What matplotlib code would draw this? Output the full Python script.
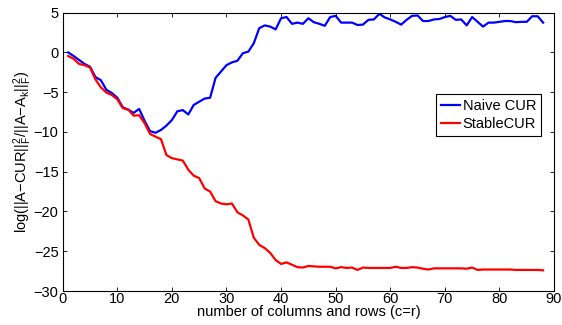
import numpy as np
import matplotlib
matplotlib.use('Agg')
import matplotlib.pyplot as plt

plt.rcParams['font.family'] = ['Liberation Sans', 'DejaVu Sans']
plt.rcParams['mathtext.fontset'] = 'custom'
plt.rcParams['mathtext.rm'] = 'Liberation Sans'
plt.rcParams['mathtext.it'] = 'Liberation Sans'

# --- data (c = r = 1..88)

n_cols = np.arange(1, 89)

naive_cur = [0.0, -0.45, -0.95, -1.45, -1.8, -3.1, -3.5, -4.7, -5.1, -5.7,
             -6.9, -7.2, -7.6, -7.1, -8.6, -9.9, -10.1, -9.75, -9.2, -8.5,
             -7.4, -7.25, -7.8, -6.6, -6.2, -5.8, -5.7, -3.2, -2.4, -1.6,
             -1.25, -1.05, -0.1, 0.1, 1.15, 3.05, 3.4, 3.25, 2.9, 4.3,
             4.45, 3.6, 3.75, 3.6, 4.3, 3.8, 3.6, 3.35, 4.45, 4.6,
             3.75, 3.75, 3.75, 3.45, 3.5, 4.1, 4.15, 4.85, 4.4, 4.15,
             3.85, 3.5, 4.1, 4.6, 4.65, 3.95, 3.95, 4.15, 4.2, 4.45,
             4.6, 4.1, 4.15, 3.4, 4.45, 3.85, 3.25, 3.75, 3.75, 3.85,
             3.95, 3.95, 3.8, 3.85, 3.85, 4.55, 4.55, 3.75]

stable_cur = [-0.45, -0.8, -1.45, -1.6, -1.9, -3.4, -4.4, -5.05, -5.35, -5.9,
              -7.0, -7.2, -7.95, -7.9, -8.9, -10.25, -10.6, -10.9, -12.9, -13.3,
              -13.45, -13.6, -14.75, -15.5, -15.8, -17.1, -17.5, -18.7, -19.0, -19.1,
              -19.0, -20.1, -20.5, -21.0, -23.3, -24.2, -24.6, -25.2, -26.1, -26.6,
              -26.4, -26.7, -27.0, -27.05, -26.85, -26.9, -26.95, -26.95, -26.95, -27.15,
              -27.0, -27.1, -27.05, -27.35, -27.05, -27.1, -27.1, -27.1, -27.1, -27.1,
              -26.95, -27.1, -27.1, -27.0, -27.05, -27.2, -27.3, -27.15, -27.15, -27.15,
              -27.15, -27.15, -27.15, -27.2, -27.05, -27.35, -27.3, -27.3, -27.3, -27.3,
              -27.3, -27.3, -27.35, -27.35, -27.35, -27.35, -27.35, -27.4]

fig = plt.figure(figsize=(5.62, 3.25), dpi=100)

left = 0.1116
bottom = 0.1046
width = 0.9858 - left
height = 0.961 - bottom

ax = fig.add_axes((left, bottom, width, height))

ax.plot(n_cols, naive_cur, color='#0000ff', lw=1.6, label='Naive CUR')
ax.plot(n_cols, stable_cur, color='#ff0000', lw=1.6, label='StableCUR')

ax.set_xlim([0, 90])
ax.set_ylim([-30, 5])
ax.set_xticks(np.arange(0, 91, 10))
ax.set_yticks(np.arange(-30, 6, 5))

ax.tick_params(direction='in', top=True, right=True, labelsize=10.5, length=3, width=0.6)
ax.tick_params(axis='x', pad=1)
ax.tick_params(axis='y', pad=3)
for sp in ax.spines.values():
    sp.set_linewidth(0.8)

ax.set_xlabel('number of columns and rows (c=r)', fontsize=10.5, labelpad=-1)
ax.set_ylabel(r'log(||A$-$CUR||$_\mathrm{F}^2$/||A$-$A$_\mathrm{k}$||$_\mathrm{F}^2$)', fontsize=10.5, labelpad=0)

leg = ax.legend(loc='center right', bbox_to_anchor=(0.974, 0.633), fontsize=10.5,
                fancybox=False, edgecolor='k', framealpha=1, handlelength=1.35,
                handletextpad=0.15, borderpad=0.35, labelspacing=0.3, borderaxespad=0)
leg.get_frame().set_linewidth(0.8)

fig.savefig('out.png', dpi=100)
